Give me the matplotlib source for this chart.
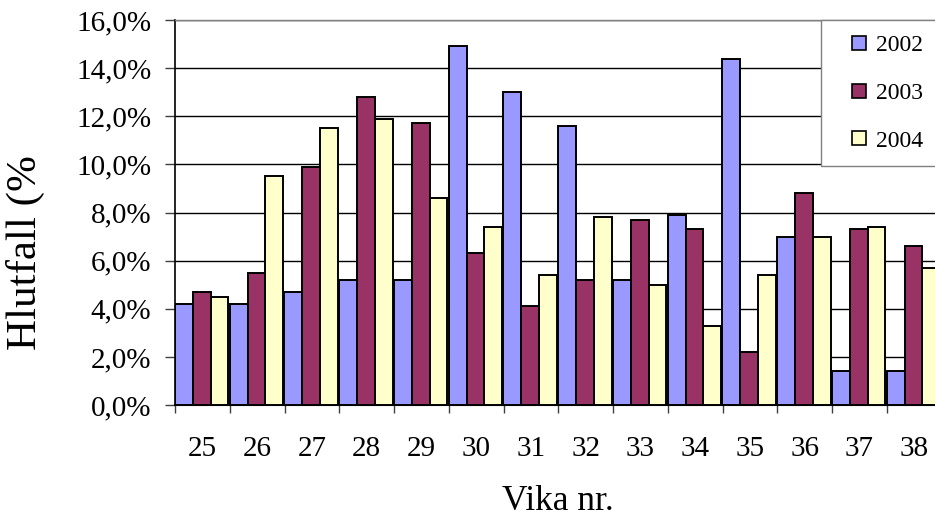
import matplotlib
matplotlib.use("Agg")
import matplotlib.pyplot as plt
from matplotlib.lines import Line2D
from matplotlib.ticker import FuncFormatter
import numpy as np

plt.rcParams['font.family'] = ['Liberation Serif', 'DejaVu Serif']

weeks = ["25", "26", "27", "28", "29", "30", "31", "32", "33", "34", "35", "36", "37", "38"]
series_names = ["2002", "2003", "2004"]
v2002 = [4.2, 4.2, 4.7, 5.2, 5.2, 14.9, 13.0, 11.6, 5.2, 7.9, 14.4, 7.0, 1.4, 1.4]
v2003 = [4.7, 5.5, 9.9, 12.8, 11.7, 6.3, 4.1, 5.2, 7.7, 7.3, 2.2, 8.8, 7.3, 6.6]
v2004 = [4.5, 9.5, 11.5, 11.9, 8.6, 7.4, 5.4, 7.8, 5.0, 3.3, 5.4, 7.0, 7.4, 5.7]
colors = ["#9999FF", "#993366", "#FFFFCC"]

W, H = 935, 516
fig = plt.figure(figsize=(W / 100, H / 100), dpi=100)
ax = fig.add_axes([175 / W, (H - 405) / H, 766.5 / W, 385 / H])

x = np.arange(len(weeks))
bw = 0.326
shift = -0.012
for i, (vals, c, name) in enumerate(zip([v2002, v2003, v2004], colors, series_names)):
    ax.bar(x + shift + (i - 1) * bw, vals, width=bw, color=c, edgecolor="black",
           linewidth=1.4, label=name, zorder=3)

ax.set_xlim(-0.5, len(weeks) - 0.5)
ax.set_ylim(0, 16)
ax.set_yticks(np.arange(0, 16.1, 2))
ax.yaxis.set_major_formatter(FuncFormatter(lambda v, p: f"{v:.1f}".replace(".", ",") + "%"))
ax.yaxis.grid(True, color="black", linewidth=1.0, zorder=0)
ax.set_axisbelow(True)

ax.set_xticks(x)
ax.set_xticklabels(weeks)
ax.set_xticks(np.arange(-0.5, len(weeks), 1.0), minor=True)
ax.tick_params(axis="x", which="major", length=0, pad=22, labelsize=21)
ax.tick_params(axis="x", which="minor", length=6, width=1.0, color="#404040", direction="out")
ax.tick_params(axis="y", which="major", length=7, width=1.0, color="#404040", pad=10, labelsize=21)

ax.spines["right"].set_visible(False)
ax.spines["top"].set_color("#808080")
ax.spines["top"].set_linewidth(1.0)
ax.spines["left"].set_linewidth(1.2)
ax.spines["bottom"].set_linewidth(1.5)

fig.text(558 / W, 1 - 501 / H, "Vika nr.", ha="center", va="center", fontsize=25.5)
fig.text(25 / W, 1 - 350 / H, "Hlutfall (%", ha="center", va="bottom", rotation=90, fontsize=31)

handles = [Line2D([], [], marker="s", linestyle="none", markersize=10, markerfacecolor=c,
                  markeredgecolor="black", markeredgewidth=1.2) for c in colors]
leg = fig.legend(handles, series_names, loc="upper left", bbox_to_anchor=(821 / W, 1 - 20 / H),
                 fontsize=17, handlelength=2.0, handletextpad=-0.28, borderpad=0.62,
                 labelspacing=1.11, fancybox=False, framealpha=1, borderaxespad=0)
leg.get_frame().set_edgecolor("#808080")
leg.get_frame().set_linewidth(1.0)

fig.savefig("out.png", dpi=100)
